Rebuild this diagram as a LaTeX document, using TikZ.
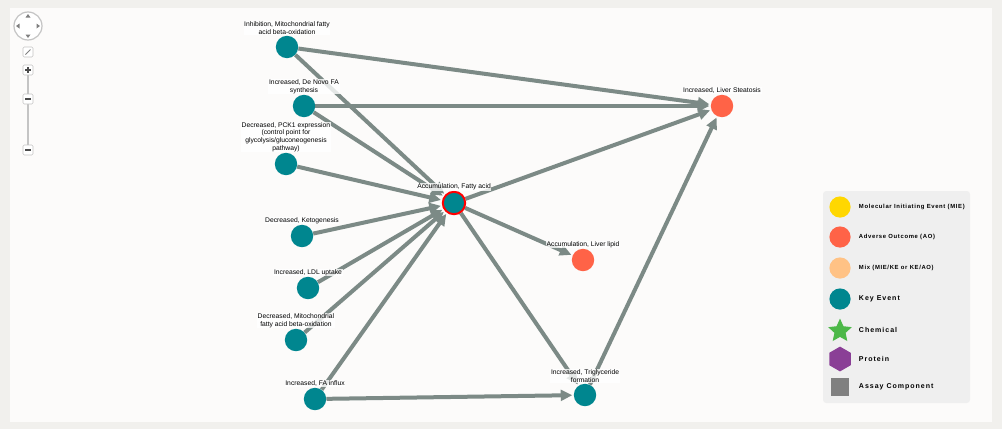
\documentclass[tikz,border=0pt]{standalone}
\usepackage{fontspec}
\setmainfont{Liberation Sans}
\usetikzlibrary{arrows.meta,shapes.geometric}

\definecolor{keyevent}{HTML}{00868F}
\definecolor{adverse}{HTML}{FF6347}
\definecolor{miecol}{HTML}{FFD700}
\definecolor{mixcol}{HTML}{FFC285}
\definecolor{chemcol}{HTML}{4CB848}
\definecolor{protcol}{HTML}{8A3F96}
\definecolor{assaycol}{HTML}{808080}
\definecolor{edgegray}{HTML}{7C8A86}
\definecolor{panelbg}{HTML}{FCFBFA}
\definecolor{framebg}{HTML}{F1F0ED}
\definecolor{legendbg}{HTML}{EFEFEF}
\definecolor{ctrlgray}{HTML}{C4C4C4}

\pgfdeclarelayer{edges}
\pgfdeclarelayer{back}
\pgfsetlayers{back,edges,main}

\tikzstyle{ke}=[circle,fill=keyevent,minimum size=5.6mm,inner sep=0pt,label distance=-0.5mm]
\tikzstyle{ao}=[circle,fill=adverse,minimum size=5.6mm,inner sep=0pt,label distance=-0.5mm]
\tikzstyle{evlabel}=[font=\fontsize{4.8}{5.4}\selectfont,align=center,fill=white,fill opacity=0.8,text opacity=1,inner sep=0.5pt]
\tikzstyle{rel}=[draw=edgegray,line width=1mm,-{Triangle[length=2.9mm,width=2.7mm]},shorten >=0.3mm]
\tikzstyle{legsmall}=[anchor=west,font=\fontsize{4.2}{5}\selectfont\bfseries\addfontfeature{LetterSpace=11}]
\tikzstyle{legbig}=[anchor=west,font=\fontsize{5}{6}\selectfont\bfseries\addfontfeature{LetterSpace=14}]
\tikzstyle{ctrlbtn}=[draw=ctrlgray,fill=white,rounded corners=0.3mm]

\begin{document}
\begin{tikzpicture}[x=0.25mm,y=-0.25mm]
\begin{pgfonlayer}{back}
	\fill[framebg] (0,0) rectangle (1002,429);
	\fill[panelbg] (10,8) rectangle (992,422);
\end{pgfonlayer}

% navigation controls
\draw[ctrlgray,fill=white,line width=0.3mm] (28,26) circle (14);
\fill[gray] (28,14) -- (25.5,17.5) -- (30.5,17.5) -- cycle;
\fill[gray] (28,38) -- (25.5,34.5) -- (30.5,34.5) -- cycle;
\fill[gray] (16,26) -- (19.5,23.5) -- (19.5,28.5) -- cycle;
\fill[gray] (40,26) -- (36.5,23.5) -- (36.5,28.5) -- cycle;
\draw[ctrlbtn] (23,47) rectangle (33,57);
\draw[gray,line width=0.2mm] (25.5,54.5) -- (30.5,49.5);
\draw[ctrlgray,line width=0.6mm] (28,75) -- (28,145);
\foreach \yy in {70,99,150}{
	\draw[ctrlbtn] (23,\yy-5) rectangle (33,\yy+5);
	\draw[black!70,line width=0.3mm] (25,\yy) -- (31,\yy);
}
\draw[black!70,line width=0.3mm] (28,67) -- (28,73);

% events
\node[ke,label={[evlabel]above:{Inhibition, Mitochondrial fatty\\acid beta-oxidation}}] (inhibfao) at (287,47) {};
\node[ke,label={[evlabel]above:{Increased, De Novo FA\\synthesis}}] (denovo) at (304,106) {};
\node[ke,label={[evlabel]above:{Decreased, PCK1 expression\\(control point for\\glycolysis/gluconeogenesis\\pathway)}}] (pckone) at (286,164) {};
\node[ke,label={[evlabel]above:{Decreased, Ketogenesis}}] (keto) at (302,236) {};
\node[ke,label={[evlabel]above:{Increased, LDL uptake}}] (ldl) at (308,288) {};
\node[ke,label={[evlabel]above:{Decreased, Mitochondrial\\fatty acid beta-oxidation}}] (decfao) at (296,340) {};
\node[ke,label={[evlabel]above:{Increased, FA influx}}] (fainflux) at (315,399) {};
\node[ke,draw=red,line width=0.5mm,label={[evlabel]above:{Accumulation, Fatty acid}}] (fattyacid) at (454,203) {};
\node[ao,label={[evlabel]above:{Accumulation, Liver lipid}}] (liverlipid) at (583,260) {};
\node[ke,label={[evlabel]above:{Increased, Triglyceride\\formation}}] (trigly) at (585,395) {};
\node[ao,label={[evlabel]above:{Increased, Liver Steatosis}}] (steatosis) at (722,106) {};

% relationships
\begin{pgfonlayer}{edges}
	\foreach \src in {inhibfao,denovo,pckone,keto,ldl,decfao,fainflux}
		\draw[rel] (\src) -- (fattyacid);
	\foreach \src in {inhibfao,denovo,fattyacid,trigly}
		\draw[rel] (\src) -- (steatosis);
	\draw[rel] (fattyacid) -- (liverlipid);
	\draw[rel] (fattyacid) -- (trigly);
	\draw[rel] (fainflux) -- (trigly);
\end{pgfonlayer}

% legend
\fill[legendbg,rounded corners=0.8mm] (823,191) rectangle (970,403);
\node[circle,fill=miecol,minimum size=5.3mm,inner sep=0pt] (legmie) at (840,207) {};
\node[circle,fill=adverse,minimum size=5.3mm,inner sep=0pt] (legao) at (840,237) {};
\node[circle,fill=mixcol,minimum size=5.3mm,inner sep=0pt] (legmix) at (840,268) {};
\node[circle,fill=keyevent,minimum size=5.3mm,inner sep=0pt] (legke) at (840,299) {};
\node[star,star points=5,star point ratio=2.1,fill=chemcol,minimum size=6.2mm,inner sep=0pt] (legchem) at (840,331) {};
\node[regular polygon,regular polygon sides=6,shape border rotate=30,fill=protcol,minimum size=6.2mm,inner sep=0pt] (legprot) at (840,359) {};
\node[rectangle,fill=assaycol,minimum size=4.4mm,inner sep=0pt] (legassay) at (840,387) {};
\node[legsmall] at (854,207) {Molecular Initiating Event (MIE)};
\node[legsmall] at (854,237) {Adverse Outcome (AO)};
\node[legsmall] at (854,268) {Mix (MIE/KE or KE/AO)};
\node[legbig] at (854,299) {Key Event};
\node[legbig] at (854,330) {Chemical};
\node[legbig] at (854,359) {Protein};
\node[legbig] at (854,387) {Assay Component};
\end{tikzpicture}
\end{document}
